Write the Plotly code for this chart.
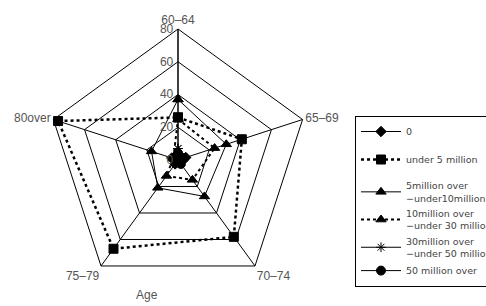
import plotly.graph_objects as go

categories = ["60–64", "65–69", "70–74", "75–79", "80over"]

s_zero = [3, 5, 2, 3, 4]
s_under5 = [26, 41, 58, 67, 77]
s_5to10 = [37, 31, 27.5, 21, 17]
s_10to30 = [25, 23.5, 15, 12, 3]
s_30to50 = [7, 3, 2, 2, 3]
s_50over = [4, 4, 3, 2, 3]

names = ["0", "under 5 million", "5million over<br>−under10million",
         "10million over<br>−under 30 million", "30million over<br>−under 50 million",
         "50 million over"]

radial_ticks = [0, 20, 40, 60, 80]

W, H = 486, 306
CX, CY, R = 178, 160, 131

series = [
    (s_zero, names[0], "solid", 1, "diamond", 8, "g0"),
    (s_under5, names[1], "dot", 2.5, "square", 9, "g1"),
    (s_5to10, names[2], "solid", 1, "triangle-up", 9, "g2"),
    (s_10to30, names[3], "dot", 2, "triangle-up", 9, "g2"),
    (s_30to50, names[4], "solid", 1, "asterisk", 8, "g2"),
    (s_50over, names[5], "solid", 1, "circle", 9, "g2"),
]

fig = go.Figure()
for vals, nm, dash, w, sym, sz, grp in series:
    fig.add_trace(go.Scatterpolar(
        r=vals + [vals[0]],
        theta=categories + [categories[0]],
        mode="lines+markers",
        name=nm,
        line=dict(color="black", width=w, dash=dash),
        marker=dict(symbol=sym, size=sz, color="black",
                    line=dict(color="black", width=1)),
        legendgroup=grp,
    ))

fig.update_layout(
    width=W, height=H,
    margin=dict(l=0, r=0, t=0, b=0, autoexpand=False),
    paper_bgcolor="white",
    plot_bgcolor="white",
    hovermode=False,
    font=dict(family="Liberation Sans, Arial, sans-serif", size=12, color="#555"),
    polar=dict(
        domain=dict(x=[(CX - R) / W, (CX + R) / W],
                    y=[(H - CY - R) / H, (H - CY + R) / H]),
        gridshape="linear",
        bgcolor="white",
        angularaxis=dict(direction="clockwise", rotation=90,
                         linecolor="black", linewidth=1,
                         gridcolor="black", gridwidth=1,
                         showline=True, ticks="",
                         tickfont=dict(size=12, color="#555")),
        radialaxis=dict(range=[0, 80], tickvals=radial_ticks,
                        angle=90, tickangle=90, side="counterclockwise",
                        linecolor="black", linewidth=1,
                        gridcolor="black", gridwidth=1,
                        showline=True, ticks="",
                        tickfont=dict(size=12, color="#555")),
    ),
    legend=dict(x=355 / W, y=1 - 116 / H, xanchor="left", yanchor="top",
                bgcolor="white", bordercolor="black", borderwidth=1,
                font=dict(family="DejaVu Sans, sans-serif", size=9.5, color="#444"),
                tracegroupgap=9, itemwidth=40),
    annotations=[dict(text="Age", x=147 / W, y=1 - 295 / H,
                      xref="paper", yref="paper", showarrow=False,
                      xanchor="center", yanchor="middle",
                      font=dict(size=12, color="#555"))],
)

fig.write_html("out.html",
               config={"displayModeBar": False},
               post_script="document.body.style.margin='0';document.body.style.overflow='hidden';")
